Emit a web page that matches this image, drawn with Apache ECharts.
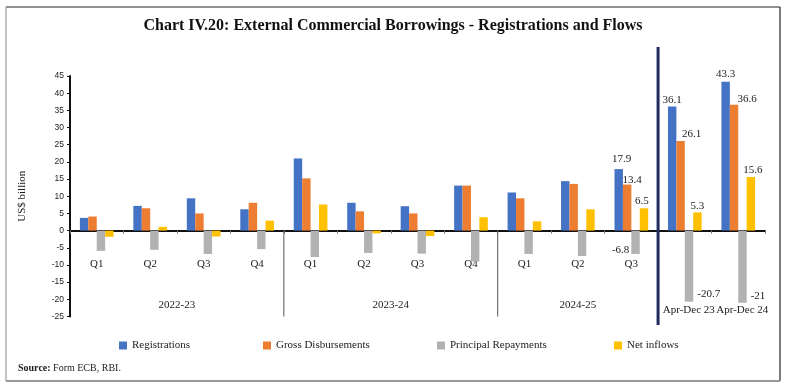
<!DOCTYPE html>
<html><head><meta charset="utf-8">
<script src="https://cdn.jsdelivr.net/npm/echarts@6.0.0/dist/echarts.min.js"></script>
<style>html,body{margin:0;padding:0;background:#fff}#c{width:786px;height:391px}</style>
</head><body><div id="c"></div>
<script>
// ---- data ----
const categories = ['Q1','Q2','Q3','Q4','Q1','Q2','Q3','Q4','Q1','Q2','Q3','Apr-Dec 23','Apr-Dec 24'];
const yearLabels = ['2022-23','2023-24','2024-25'];
const yearCenters = [2, 6, 9.5];
const groupBoundaries = [4, 8];
const periodDivider = 11;
const seriesNames = ['Registrations','Gross Disbursements','Principal Repayments','Net inflows'];
const registrations = [3.7, 7.2, 9.4, 6.2, 21.0, 8.1, 7.1, 13.1, 11.1, 14.4, 17.9, 36.1, 43.3];
const grossDisbursements = [4.1, 6.5, 5.0, 8.1, 15.2, 5.6, 5.0, 13.1, 9.4, 13.6, 13.4, 26.1, 36.6];
const principalRepayments = [-5.9, -5.6, -6.8, -5.4, -7.7, -6.5, -6.7, -9.0, -6.8, -7.4, -6.8, -20.7, -21];
const netInflows = [-1.8, 1.1, -1.7, 2.9, 7.6, -0.8, -1.6, 3.9, 2.7, 6.2, 6.5, 5.3, 15.6];
const yTicks = {min: -25, max: 45, interval: 5};

// ---- styles ----
const colors = ['#4472C4', '#ED7D31', '#B2B2B2', '#FFC000'];
const serif = '"Liberation Serif", serif';
const labelStyles = [
  {10:{position:'top',offset:[3,0]}, 11:{position:'top',offset:[0,3]}, 12:{position:'top',offset:[0,2]}},
  {10:{position:'top',offset:[5,5]}, 11:{position:'top',offset:[11,3]}, 12:{position:'top',offset:[13,4]}},
  {10:{position:'left',offset:[2,8]}, 11:{position:'right',offset:[0,28]}, 12:{position:'right',offset:[0,29]}},
  {10:{position:'top',offset:[-2,2]}, 11:{position:'top',offset:[0,3]}, 12:{position:'top',offset:[2,3]}}
];
const legendLeft = [114, 258, 432, 609];
const gridTop = 76, gridBottom = 74.5, chartH = 391;
const gridHeight = chartH - gridTop - gridBottom;
// shift the category axis from the grid bottom up to the value-axis zero
const zeroOffset = -((0 - yTicks.min) / (yTicks.max - yTicks.min)) * gridHeight;

const allValues = [registrations, grossDisbursements, principalRepayments, netInflows];
const barSeries = allValues.map((vals, s) => ({
  name: seriesNames[s],
  type: 'bar',
  xAxisIndex: 0, yAxisIndex: 0,
  barGap: '0%',
  barCategoryGap: '37%',
  itemStyle: {color: colors[s]},
  emphasis: {disabled: true},
  data: vals.map((v, i) => {
    const ls = labelStyles[s][i];
    if (!ls) return v;
    return {value: v, label: Object.assign({show: true, distance: 4, color: '#222', fontFamily: serif, fontSize: 11,
      formatter: p => String(p.value)}, ls)};
  })
}));

const sepSeries = groupBoundaries.map(b => ({
  type: 'line', xAxisIndex: 1, yAxisIndex: 0, symbol: 'none', silent: true,
  lineStyle: {color: '#555', width: 1}, data: [[b, 0], [b, yTicks.min]]
}));

const dividerSeries = {
  type: 'line', xAxisIndex: 2, yAxisIndex: 1, symbol: 'none', silent: true,
  lineStyle: {color: '#1F2A5E', width: 3}, data: [[periodDivider, 0], [periodDivider, 1]]
};

const chart = echarts.init(document.getElementById('c'), null, {renderer: 'canvas'});
chart.setOption({
  animation: false,
  backgroundColor: '#fff',
  title: {
    text: 'Chart IV.20: External Commercial Borrowings - Registrations and Flows',
    left: 'center', top: 13,
    textStyle: {fontFamily: serif, fontWeight: 'bold', fontSize: 16, color: '#111'}
  },
  legend: seriesNames.map((n, i) => ({
    data: [n], left: legendLeft[i], top: 335, itemWidth: 8, itemHeight: 8, icon: 'rect',
    itemGap: 0, selectedMode: false,
    textStyle: {fontFamily: serif, fontSize: 11, color: '#222'}
  })),
  grid: [
    {left: 70, right: 21, top: gridTop, bottom: gridBottom, outerBoundsMode: 'none', containLabel: false},
    {left: 70, right: 21, top: 47, bottom: 66, outerBoundsMode: 'none', containLabel: false}
  ],
  xAxis: [
    {
      type: 'category', gridIndex: 0, data: categories, position: 'bottom', offset: zeroOffset,
      axisLine: {onZero: false, lineStyle: {color: '#111', width: 2}},
      axisTick: {show: true, length: 3, lineStyle: {color: '#777'}},
      axisLabel: {
        interval: 0, margin: 28, color: '#222', fontFamily: serif, fontSize: 11,
        formatter: v => v.indexOf('Apr') === 0 ? '{d|' + v + '}' : v,
        rich: {d: {padding: [46, 0, 0, 8], fontFamily: serif, fontSize: 11, color: '#222'}}
      },
      splitLine: {show: false}
    },
    {
      type: 'value', gridIndex: 0, min: 0, max: categories.length, interval: 0.5,
      position: 'bottom',
      axisLine: {show: false, onZero: false}, axisTick: {show: false}, splitLine: {show: false},
      axisLabel: {
        inside: true, margin: 6, color: '#222', fontFamily: serif, fontSize: 11,
        showMinLabel: true, showMaxLabel: true,
        formatter: v => { const k = yearCenters.indexOf(v); return k >= 0 ? yearLabels[k] : ''; }
      }
    },
    {
      type: 'value', gridIndex: 1, min: 0, max: categories.length, show: false
    }
  ],
  yAxis: [
    {
      type: 'value', gridIndex: 0, min: yTicks.min, max: yTicks.max, interval: yTicks.interval,
      name: 'US$ billion', nameLocation: 'middle', nameGap: 42, nameRotate: 90,
      nameTextStyle: {fontFamily: serif, fontSize: 11, color: '#222'},
      axisLine: {show: true, onZero: false, lineStyle: {color: '#111', width: 2}},
      axisTick: {show: true, length: 3, lineStyle: {color: '#111'}},
      axisLabel: {margin: 6, color: '#222', fontFamily: '"Liberation Sans", sans-serif', fontSize: 8.5},
      splitLine: {show: false}
    },
    {type: 'value', gridIndex: 1, min: 0, max: 1, show: false}
  ],
  series: [...barSeries, ...sepSeries, dividerSeries],
  graphic: [
    {type: 'line', shape: {x1: 6, y1: 7, x2: 780, y2: 7}, style: {stroke: '#222', lineWidth: 1.2}, silent: true},
    {type: 'line', shape: {x1: 780, y1: 7, x2: 780, y2: 381}, style: {stroke: '#222', lineWidth: 1.2}, silent: true},
    {type: 'line', shape: {x1: 6, y1: 7, x2: 6, y2: 381}, style: {stroke: '#999', lineWidth: 1.2}, silent: true},
    {type: 'line', shape: {x1: 6, y1: 381, x2: 780, y2: 381}, style: {stroke: '#999', lineWidth: 2}, silent: true},
    {type: 'text', left: 18, top: 363, silent: true,
     style: {text: '{b|Source:} Form ECB, RBI.', fill: '#222', font: '10px "Liberation Serif", serif',
       rich: {b: {fontWeight: 'bold', fontFamily: serif, fontSize: 10, fill: '#222'}}}}
  ]
});
</script>
</body></html>
